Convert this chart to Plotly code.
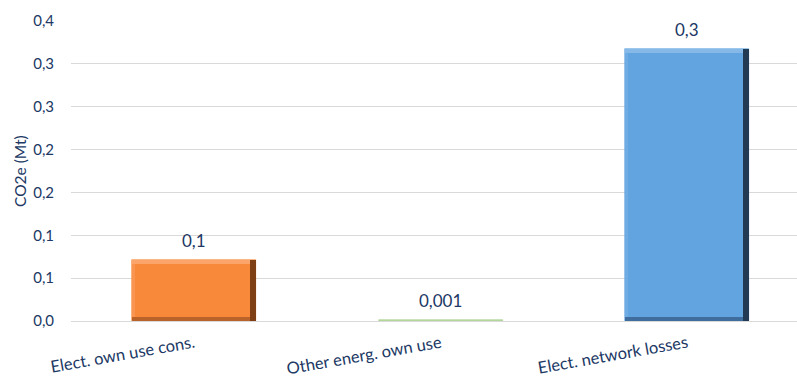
import plotly.graph_objects as go

# Emission sources and their CO2e values (Mt)
categories = ["Elect. own use cons.", "Other energ. own use", "Elect. network losses"]
values = [0.071, 0.001, 0.317]
label_decimals = [1, 3, 1]

# Y axis ticks (labels shown rounded to one decimal)
y_tick_values = [0.0, 0.05, 0.10, 0.15, 0.20, 0.25, 0.30, 0.35]
y_tick_text = ["0,0", "0,1", "0,1", "0,2", "0,2", "0,3", "0,3", "0,4"]

face_colors = ["#F8893A", "#A9D18E", "#62A4E0"]
right_colors = ["#7E3F14", "#A9D18E", "#233A55"]
bottom_colors = ["#B9622A", "#A9D18E", "#3F6E9E"]
top_colors = ["#FBA56A", "#A9D18E", "#86B9E8"]
left_colors = ["#F99550", "#A9D18E", "#6FACE3"]

NAVY = "#203864"
FONT = "Lato"
W = 0.503          # bar width (category units)
BEV_X = 0.024      # right bevel thickness (category units)
BEV_Y = 0.0045     # top/bottom bevel thickness (data units)

fig = go.Figure()

# Bars at full value
fig.add_trace(go.Bar(
    x=categories, y=values, width=W,
    marker=dict(color=face_colors, line=dict(width=0.6, color=face_colors)),
    hoverinfo="skip", showlegend=False,
))

# Bevel edges for bars tall enough to carry them
big = [v > 4 * BEV_Y for v in values]
n = len(values)


def edge(y, base, width, offset, colors):
    sel = [i for i in range(n) if big[i]]
    fig.add_trace(go.Bar(
        x=[categories[i] for i in sel], y=[y[i] for i in sel],
        base=[base[i] for i in sel],
        width=width, offset=offset,
        marker=dict(color=[colors[i] for i in sel], line=dict(width=0)),
        hoverinfo="skip", showlegend=False,
    ))


edge([BEV_Y] * n, [0] * n, W - BEV_X, -W / 2, bottom_colors)
edge([BEV_Y] * n, [v - BEV_Y for v in values], W - BEV_X, -W / 2, top_colors)
edge([v - 2 * BEV_Y for v in values], [BEV_Y] * n, BEV_X / 2, -W / 2, left_colors)
edge(values, [0] * n, BEV_X, W / 2 - BEV_X, right_colors)

# Value labels above each bar
for c, v, d in zip(categories, values, label_decimals):
    fig.add_annotation(
        x=c, y=v, text=f"{v:.{d}f}".replace(".", ","),
        showarrow=False, yanchor="bottom", yshift=7,
        font=dict(family=FONT, size=17, color=NAVY),
    )

# Y axis title
fig.add_annotation(
    xref="paper", yref="paper", x=-51 / 726, y=0.5,
    text="CO2e (Mt)", textangle=-90, showarrow=False,
    xanchor="center", yanchor="middle",
    font=dict(family=FONT, size=15.5, color=NAVY),
)

fig.update_layout(
    width=797, height=380,
    margin=dict(l=71, r=0, t=21, b=59),
    paper_bgcolor="white", plot_bgcolor="white",
    barmode="overlay", bargap=0,
    font=dict(family=FONT, color=NAVY),
    xaxis=dict(
        type="category", range=[-0.5, 2.445], automargin=False,
        showgrid=False, showline=False, zeroline=False,
        ticks="", tickangle=-10, ticklabelstandoff=9,
        tickfont=dict(family=FONT, size=16.5, color=NAVY),
    ),
    yaxis=dict(
        range=[0, 0.35], tickvals=y_tick_values, ticktext=y_tick_text,
        automargin=False,
        showgrid=True, gridcolor="#D9D9D9", gridwidth=1,
        zeroline=True, zerolinecolor="#D9D9D9", zerolinewidth=1,
        showline=False, ticks="", ticklabelstandoff=16,
        tickfont=dict(family=FONT, size=15, color=NAVY),
    ),
)

fig.write_html("out.html")
